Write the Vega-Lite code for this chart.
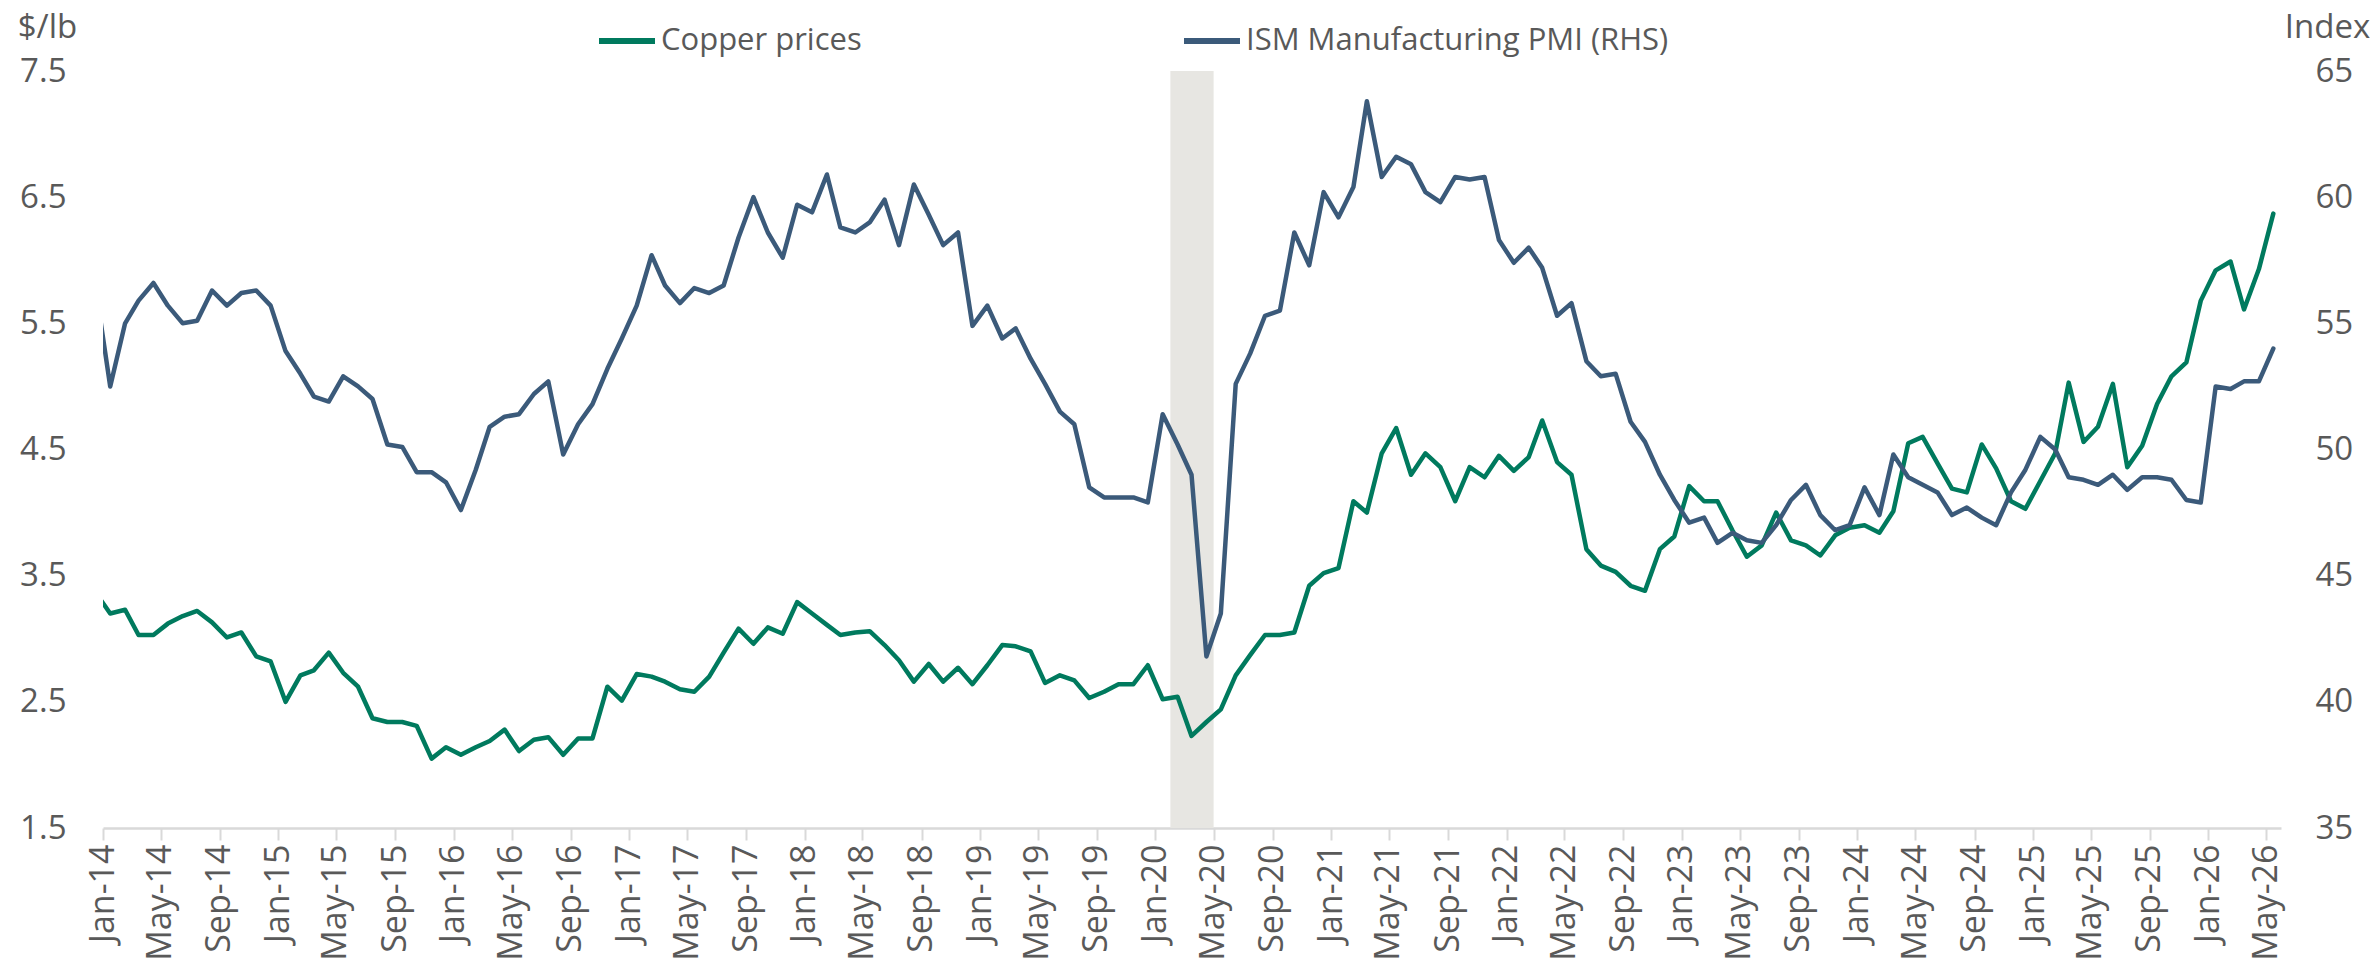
{
  "$schema": "https://vega.github.io/schema/vega-lite/v6.json",
  "width": 2178,
  "height": 757,
  "autosize": {"type": "none"},
  "padding": {"left": 103, "top": 71, "right": 98, "bottom": 142},
  "background": "white",
  "config": {
    "view": {"stroke": null},
    "font": "Open Sans",
    "axis": {"grid": false, "labelColor": "#595959", "titleColor": "#595959", "titleFontWeight": "normal"}
  },
  "datasets": {
    "series": [
      {"date": "2013-12-16", "copper": 3.37, "pmi": 56.5},
      {"date": "2014-01-16", "copper": 3.20, "pmi": 52.5},
      {"date": "2014-02-16", "copper": 3.23, "pmi": 55.0},
      {"date": "2014-03-16", "copper": 3.03, "pmi": 55.9},
      {"date": "2014-04-16", "copper": 3.03, "pmi": 56.6},
      {"date": "2014-05-16", "copper": 3.12, "pmi": 55.7},
      {"date": "2014-06-16", "copper": 3.18, "pmi": 55.0},
      {"date": "2014-07-16", "copper": 3.22, "pmi": 55.1},
      {"date": "2014-08-16", "copper": 3.13, "pmi": 56.3},
      {"date": "2014-09-16", "copper": 3.01, "pmi": 55.7},
      {"date": "2014-10-16", "copper": 3.05, "pmi": 56.2},
      {"date": "2014-11-16", "copper": 2.86, "pmi": 56.3},
      {"date": "2014-12-16", "copper": 2.82, "pmi": 55.7},
      {"date": "2015-01-16", "copper": 2.50, "pmi": 53.9},
      {"date": "2015-02-16", "copper": 2.71, "pmi": 53.0},
      {"date": "2015-03-16", "copper": 2.75, "pmi": 52.1},
      {"date": "2015-04-16", "copper": 2.89, "pmi": 51.9},
      {"date": "2015-05-16", "copper": 2.73, "pmi": 52.9},
      {"date": "2015-06-16", "copper": 2.62, "pmi": 52.5},
      {"date": "2015-07-16", "copper": 2.37, "pmi": 52.0},
      {"date": "2015-08-16", "copper": 2.34, "pmi": 50.2},
      {"date": "2015-09-16", "copper": 2.34, "pmi": 50.1},
      {"date": "2015-10-16", "copper": 2.31, "pmi": 49.1},
      {"date": "2015-11-16", "copper": 2.05, "pmi": 49.1},
      {"date": "2015-12-16", "copper": 2.14, "pmi": 48.7},
      {"date": "2016-01-16", "copper": 2.08, "pmi": 47.6},
      {"date": "2016-02-16", "copper": 2.14, "pmi": 49.2},
      {"date": "2016-03-16", "copper": 2.19, "pmi": 50.9},
      {"date": "2016-04-16", "copper": 2.28, "pmi": 51.3},
      {"date": "2016-05-16", "copper": 2.11, "pmi": 51.4},
      {"date": "2016-06-16", "copper": 2.20, "pmi": 52.2},
      {"date": "2016-07-16", "copper": 2.22, "pmi": 52.7},
      {"date": "2016-08-16", "copper": 2.08, "pmi": 49.8},
      {"date": "2016-09-16", "copper": 2.21, "pmi": 51.0},
      {"date": "2016-10-16", "copper": 2.21, "pmi": 51.8},
      {"date": "2016-11-16", "copper": 2.62, "pmi": 53.2},
      {"date": "2016-12-16", "copper": 2.51, "pmi": 54.4},
      {"date": "2017-01-16", "copper": 2.72, "pmi": 55.7},
      {"date": "2017-02-16", "copper": 2.70, "pmi": 57.7},
      {"date": "2017-03-16", "copper": 2.66, "pmi": 56.5},
      {"date": "2017-04-16", "copper": 2.60, "pmi": 55.8},
      {"date": "2017-05-16", "copper": 2.58, "pmi": 56.4},
      {"date": "2017-06-16", "copper": 2.70, "pmi": 56.2},
      {"date": "2017-07-16", "copper": 2.89, "pmi": 56.5},
      {"date": "2017-08-16", "copper": 3.08, "pmi": 58.4},
      {"date": "2017-09-16", "copper": 2.96, "pmi": 60.0},
      {"date": "2017-10-16", "copper": 3.09, "pmi": 58.6},
      {"date": "2017-11-16", "copper": 3.04, "pmi": 57.6},
      {"date": "2017-12-16", "copper": 3.29, "pmi": 59.7},
      {"date": "2018-01-16", "copper": 3.20, "pmi": 59.4},
      {"date": "2018-02-16", "copper": 3.11, "pmi": 60.9},
      {"date": "2018-03-16", "copper": 3.03, "pmi": 58.8},
      {"date": "2018-04-16", "copper": 3.05, "pmi": 58.6},
      {"date": "2018-05-16", "copper": 3.06, "pmi": 59.0},
      {"date": "2018-06-16", "copper": 2.95, "pmi": 59.9},
      {"date": "2018-07-16", "copper": 2.83, "pmi": 58.1},
      {"date": "2018-08-16", "copper": 2.66, "pmi": 60.5},
      {"date": "2018-09-16", "copper": 2.80, "pmi": 59.3},
      {"date": "2018-10-16", "copper": 2.66, "pmi": 58.1},
      {"date": "2018-11-16", "copper": 2.77, "pmi": 58.6},
      {"date": "2018-12-16", "copper": 2.64, "pmi": 54.9},
      {"date": "2019-01-16", "copper": 2.79, "pmi": 55.7},
      {"date": "2019-02-16", "copper": 2.95, "pmi": 54.4},
      {"date": "2019-03-16", "copper": 2.94, "pmi": 54.8},
      {"date": "2019-04-16", "copper": 2.90, "pmi": 53.6},
      {"date": "2019-05-16", "copper": 2.65, "pmi": 52.6},
      {"date": "2019-06-16", "copper": 2.71, "pmi": 51.5},
      {"date": "2019-07-16", "copper": 2.67, "pmi": 51.0},
      {"date": "2019-08-16", "copper": 2.53, "pmi": 48.5},
      {"date": "2019-09-16", "copper": 2.58, "pmi": 48.1},
      {"date": "2019-10-16", "copper": 2.64, "pmi": 48.1},
      {"date": "2019-11-16", "copper": 2.64, "pmi": 48.1},
      {"date": "2019-12-16", "copper": 2.79, "pmi": 47.9},
      {"date": "2020-01-16", "copper": 2.52, "pmi": 51.4},
      {"date": "2020-02-16", "copper": 2.54, "pmi": 50.2},
      {"date": "2020-03-16", "copper": 2.23, "pmi": 49.0},
      {"date": "2020-04-16", "copper": 2.34, "pmi": 41.8},
      {"date": "2020-05-16", "copper": 2.44, "pmi": 43.5},
      {"date": "2020-06-16", "copper": 2.71, "pmi": 52.6},
      {"date": "2020-07-16", "copper": 2.87, "pmi": 53.8},
      {"date": "2020-08-16", "copper": 3.03, "pmi": 55.3},
      {"date": "2020-09-16", "copper": 3.03, "pmi": 55.5},
      {"date": "2020-10-16", "copper": 3.05, "pmi": 58.6},
      {"date": "2020-11-16", "copper": 3.42, "pmi": 57.3},
      {"date": "2020-12-16", "copper": 3.52, "pmi": 60.2},
      {"date": "2021-01-16", "copper": 3.56, "pmi": 59.2},
      {"date": "2021-02-16", "copper": 4.09, "pmi": 60.4},
      {"date": "2021-03-16", "copper": 4.00, "pmi": 63.8},
      {"date": "2021-04-16", "copper": 4.47, "pmi": 60.8},
      {"date": "2021-05-16", "copper": 4.67, "pmi": 61.6},
      {"date": "2021-06-16", "copper": 4.30, "pmi": 61.3},
      {"date": "2021-07-16", "copper": 4.47, "pmi": 60.2},
      {"date": "2021-08-16", "copper": 4.36, "pmi": 59.8},
      {"date": "2021-09-16", "copper": 4.09, "pmi": 60.8},
      {"date": "2021-10-16", "copper": 4.36, "pmi": 60.7},
      {"date": "2021-11-16", "copper": 4.28, "pmi": 60.8},
      {"date": "2021-12-16", "copper": 4.45, "pmi": 58.3},
      {"date": "2022-01-16", "copper": 4.33, "pmi": 57.4},
      {"date": "2022-02-16", "copper": 4.44, "pmi": 58.0},
      {"date": "2022-03-16", "copper": 4.73, "pmi": 57.2},
      {"date": "2022-04-16", "copper": 4.40, "pmi": 55.3},
      {"date": "2022-05-16", "copper": 4.30, "pmi": 55.8},
      {"date": "2022-06-16", "copper": 3.71, "pmi": 53.5},
      {"date": "2022-07-16", "copper": 3.58, "pmi": 52.9},
      {"date": "2022-08-16", "copper": 3.53, "pmi": 53.0},
      {"date": "2022-09-16", "copper": 3.42, "pmi": 51.1},
      {"date": "2022-10-16", "copper": 3.38, "pmi": 50.3},
      {"date": "2022-11-16", "copper": 3.71, "pmi": 49.0},
      {"date": "2022-12-16", "copper": 3.81, "pmi": 48.0},
      {"date": "2023-01-16", "copper": 4.21, "pmi": 47.1},
      {"date": "2023-02-16", "copper": 4.09, "pmi": 47.3},
      {"date": "2023-03-16", "copper": 4.09, "pmi": 46.3},
      {"date": "2023-04-16", "copper": 3.86, "pmi": 46.7},
      {"date": "2023-05-16", "copper": 3.65, "pmi": 46.4},
      {"date": "2023-06-16", "copper": 3.74, "pmi": 46.3},
      {"date": "2023-07-16", "copper": 4.00, "pmi": 47.0},
      {"date": "2023-08-16", "copper": 3.78, "pmi": 48.0},
      {"date": "2023-09-16", "copper": 3.74, "pmi": 48.6},
      {"date": "2023-10-16", "copper": 3.66, "pmi": 47.4},
      {"date": "2023-11-16", "copper": 3.82, "pmi": 46.8},
      {"date": "2023-12-16", "copper": 3.88, "pmi": 47.0},
      {"date": "2024-01-16", "copper": 3.90, "pmi": 48.5},
      {"date": "2024-02-16", "copper": 3.84, "pmi": 47.4},
      {"date": "2024-03-16", "copper": 4.01, "pmi": 49.8},
      {"date": "2024-04-16", "copper": 4.55, "pmi": 48.9},
      {"date": "2024-05-16", "copper": 4.60, "pmi": 48.6},
      {"date": "2024-06-16", "copper": 4.39, "pmi": 48.3},
      {"date": "2024-07-16", "copper": 4.19, "pmi": 47.4},
      {"date": "2024-08-16", "copper": 4.16, "pmi": 47.7},
      {"date": "2024-09-16", "copper": 4.54, "pmi": 47.3},
      {"date": "2024-10-16", "copper": 4.35, "pmi": 47.0},
      {"date": "2024-11-16", "copper": 4.09, "pmi": 48.3},
      {"date": "2024-12-16", "copper": 4.03, "pmi": 49.2},
      {"date": "2025-01-16", "copper": 4.25, "pmi": 50.5},
      {"date": "2025-02-16", "copper": 4.47, "pmi": 50.0},
      {"date": "2025-03-16", "copper": 5.03, "pmi": 48.9},
      {"date": "2025-04-16", "copper": 4.56, "pmi": 48.8},
      {"date": "2025-05-16", "copper": 4.68, "pmi": 48.6},
      {"date": "2025-06-16", "copper": 5.02, "pmi": 49.0},
      {"date": "2025-07-16", "copper": 4.36, "pmi": 48.4},
      {"date": "2025-08-16", "copper": 4.53, "pmi": 48.9},
      {"date": "2025-09-16", "copper": 4.86, "pmi": 48.9},
      {"date": "2025-10-16", "copper": 5.08, "pmi": 48.8},
      {"date": "2025-11-16", "copper": 5.19, "pmi": 48.0},
      {"date": "2025-12-16", "copper": 5.68, "pmi": 47.9},
      {"date": "2026-01-16", "copper": 5.92, "pmi": 52.5},
      {"date": "2026-02-16", "copper": 5.99, "pmi": 52.4},
      {"date": "2026-03-16", "copper": 5.61, "pmi": 52.7},
      {"date": "2026-04-16", "copper": 5.93, "pmi": 52.7},
      {"date": "2026-05-16", "copper": 6.37, "pmi": 54.0}
    ],
    "recession": [{"start": "2020-02-01", "end": "2020-05-01"}]
  },
  "layer": [
    {
      "data": {"name": "recession"},
      "mark": {"type": "rect", "color": "#E7E6E2"},
      "encoding": {
        "x": {
          "field": "start", "type": "temporal",
          "scale": {"type": "utc", "domain": [{"year": 2014, "month": 1, "date": 1, "utc": true}, {"year": 2026, "month": 6, "date": 1, "utc": true}]},
          "axis": {
            "title": null, "tickCount": {"interval": "month", "step": 4},
            "labelExpr": "utcFormat(datum.value, '%b-%y')",
            "labelAngle": -90, "labelAlign": "right", "labelBaseline": "middle",
            "labelFontSize": 34, "labelPadding": 4, "labelFlush": false, "labelOverlap": false,
            "domainColor": "#D9D9D9", "domainWidth": 2.5, "tickColor": "#D9D9D9", "tickWidth": 2, "tickSize": 12
          }
        },
        "x2": {"field": "end"}
      }
    },
    {
      "data": {"name": "series"},
      "mark": {"type": "line", "strokeWidth": 4.5, "strokeJoin": "round", "strokeCap": "round", "clip": true},
      "encoding": {
        "x": {"field": "date", "type": "temporal"},
        "y": {
          "field": "copper", "type": "quantitative",
          "scale": {"domain": [1.5, 7.5], "nice": false, "zero": false},
          "axis": {
            "orient": "left", "values": [1.5, 2.5, 3.5, 4.5, 5.5, 6.5, 7.5], "format": ".1f",
            "domain": false, "ticks": false, "labelFontSize": 33, "labelPadding": 37,
            "title": "$/lb", "titleAngle": 0, "titleX": -56, "titleY": -44,
            "titleAlign": "center", "titleBaseline": "middle", "titleFontSize": 33
          }
        },
        "color": {
          "datum": "Copper prices", "type": "nominal",
          "scale": {"domain": ["Copper prices", "ISM Manufacturing PMI (RHS)"], "range": ["#007A5E", "#3B5A7A"]},
          "legend": {
            "orient": "none", "legendX": 493, "legendY": -61, "direction": "horizontal",
            "title": null, "symbolType": "stroke", "symbolSize": 3136, "symbolStrokeWidth": 6,
            "labelFontSize": 31, "labelColor": "#595959", "labelOffset": 3, "columnPadding": 310,
            "labelLimit": 800, "padding": 0, "offset": 0
          }
        }
      }
    },
    {
      "data": {"name": "series"},
      "mark": {"type": "line", "strokeWidth": 4.5, "strokeJoin": "round", "strokeCap": "round", "clip": true},
      "encoding": {
        "x": {"field": "date", "type": "temporal"},
        "y": {
          "field": "pmi", "type": "quantitative",
          "scale": {"domain": [35, 65], "nice": false, "zero": false},
          "axis": {
            "orient": "right", "values": [35, 40, 45, 50, 55, 60, 65],
            "domain": false, "ticks": false, "labelFontSize": 33, "labelPadding": 34,
            "title": "Index", "titleAngle": 0, "titleX": 46, "titleY": -44,
            "titleAlign": "center", "titleBaseline": "middle", "titleFontSize": 33
          }
        },
        "color": {"datum": "ISM Manufacturing PMI (RHS)", "type": "nominal"}
      }
    }
  ],
  "resolve": {"scale": {"y": "independent"}, "axis": {"y": "independent"}}
}
